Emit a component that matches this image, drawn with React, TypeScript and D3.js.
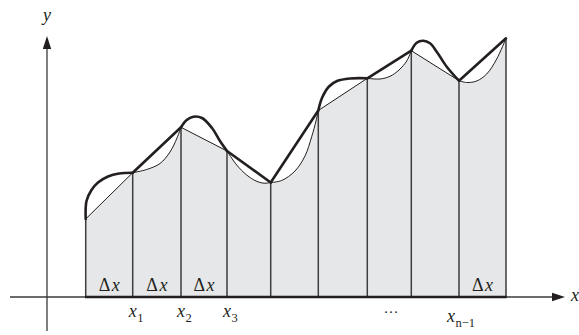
import React from "react";
import * as d3 from "d3";

// Node abscissae and ordinates (data units; origin at axis crossing)
const nodeX = [3.87, 8.57, 13.4, 18.0, 22.37, 27.13, 32.03, 36.43, 41.2, 45.9];
const nodeY = [7.8, 12.43, 16.97, 14.6, 11.45, 18.65, 21.87, 24.63, 21.63, 25.87];

// Thick curve f(x): interior samples per interval (empty => straight chord)
const curveSamples: [number, number][][] = [
  [[3.95, 9.6], [4.45, 10.7], [5.1, 11.45], [6.1, 12.05], [7.2, 12.35]],
  [],
  [[13.97, 17.7], [14.63, 18.03], [15.5, 17.9], [16.5, 16.9], [17.3, 15.6]],
  [],
  [],
  [[27.5, 19.9], [28.2, 21.05], [29.0, 21.6], [30.3, 21.85]],
  [],
  [[36.97, 25.43], [37.63, 25.63], [38.3, 25.37], [38.97, 24.53], [39.97, 23.03]],
  [],
];

// Thin approximating curve: interior samples per interval (empty => straight chord)
const approxSamples: [number, number][][] = [
  [],
  [[9.97, 12.75], [11.3, 13.35], [12.3, 14.5], [13.0, 15.9]],
  [],
  [[18.97, 13.2], [19.97, 12.2], [20.9, 11.6], [21.7, 11.38]],
  [[23.47, 11.65], [24.8, 12.6], [25.8, 14.1], [26.47, 16.03], [26.9, 17.6]],
  [],
  [[33.3, 21.8], [34.3, 22.07], [35.2, 22.7], [35.97, 23.6]],
  [],
  [[41.97, 21.45], [42.97, 21.6], [43.97, 22.3], [44.97, 23.8]],
];

const deltaIntervals = [0, 1, 2, 8];
const nodeLabelIdx = [1, 2, 3, 8];
const nodeLabelSub = ["1", "2", "3", "n−1"];
const dotsPos = [34.4];

const W = 579;
const H = 335;
const FONT = "Liberation Serif";
const INK = "#231f20";

export default function App() {
  const x = d3.scaleLinear().domain([0, 52]).range([47, 567]);
  const y = d3.scaleLinear().domain([0, 26]).range([297, 37]);

  const seg = (i: number, mids: [number, number][]): [number, number][] => [
    [nodeX[i], nodeY[i]],
    ...mids,
    [nodeX[i + 1], nodeY[i + 1]],
  ];

  const line = d3
    .line<[number, number]>()
    .x((d) => x(d[0]))
    .y((d) => y(d[1]))
    .curve(d3.curveCatmullRom.alpha(0.5));

  const area = d3
    .area<[number, number]>()
    .x((d) => x(d[0]))
    .y0(y(0))
    .y1((d) => y(d[1]))
    .curve(d3.curveCatmullRom.alpha(0.5));

  const intervals = d3.range(nodeX.length - 1);
  const y0 = y(0);
  const x0 = x(0);
  const ts = { fontFamily: FONT };
  const it = { fontFamily: FONT, fontStyle: "oblique" as const };

  return (
    <svg
      width={W}
      height={H}
      style={{ position: "absolute", left: 0, top: 0, background: "#fff" }}
    >
      {/* axes */}
      <line x1={10} x2={556} y1={y0} y2={y0} stroke="#3a3a3a" strokeWidth={1.3} />
      <line x1={x0} x2={x0} y1={331} y2={46} stroke="#3a3a3a" strokeWidth={1.3} />
      <polygon points={`565,${y0} 552,${y0 - 4.2} 552,${y0 + 4.2}`} fill={INK} />
      <polygon points={`${x0},36 ${x0 - 4.2},49 ${x0 + 4.2},49`} fill={INK} />

      {/* fill under approximation */}
      {intervals.map((i) => (
        <path key={"a" + i} d={area(seg(i, approxSamples[i])) || ""} fill="#e6e7e8" stroke="#e6e7e8" strokeWidth={0.6} />
      ))}

      {/* verticals */}
      {nodeX.map((nx, i) => (
        <line key={"v" + i} x1={x(nx)} x2={x(nx)} y1={y(nodeY[i])} y2={y0} stroke="#3d3d3d" strokeWidth={1.5} />
      ))}
      <line x1={x(nodeX[0]) - 0.7} x2={x(nodeX[nodeX.length - 1]) + 0.7} y1={y0} y2={y0} stroke={INK} strokeWidth={2.4} />

      {/* thin approximation */}
      {intervals.map((i) => (
        <path key={"t" + i} d={line(seg(i, approxSamples[i])) || ""} fill="none" stroke={INK} strokeWidth={1} />
      ))}
      {/* thick function */}
      {intervals.map((i) => (
        <path
          key={"k" + i}
          d={line(seg(i, curveSamples[i])) || ""}
          fill="none"
          stroke={INK}
          strokeWidth={2.6}
          strokeLinecap="round"
          strokeLinejoin="round"
        />
      ))}

      {/* Δx labels */}
      {deltaIntervals.map((i) => (
        <text key={"d" + i} x={(x(nodeX[i]) + x(nodeX[i + 1])) / 2} y={291} textAnchor="middle" fontSize={18} fill={INK} style={ts}>
          <tspan style={ts}>Δ</tspan>
          <tspan style={it} dx={1.5}>x</tspan>
        </text>
      ))}

      {/* node labels */}
      {nodeLabelIdx.map((idx, k) => {
        const cx = x(nodeX[idx]);
        const long = nodeLabelSub[k].length > 1;
        const gx = long ? cx - 8 : cx;
        const by = long ? 322 : 317;
        return (
          <g key={"n" + idx} fill={INK}>
            <text x={gx} y={by} textAnchor="middle" fontSize={18} style={it}>x</text>
            <text x={gx + 4.5} y={by + 5} fontSize={12.5} style={ts}>{nodeLabelSub[k]}</text>
          </g>
        );
      })}
      {dotsPos.map((d, k) => (
        <text key={"dots" + k} x={x(d)} y={313} textAnchor="middle" fontSize={15} fill={INK} style={ts}>…</text>
      ))}

      {/* axis titles */}
      <text x={x0} y={21} textAnchor="middle" fontSize={18} fill={INK} style={it}>y</text>
      <text x={571} y={301} fontSize={18} fill={INK} style={it}>x</text>
    </svg>
  );
}
